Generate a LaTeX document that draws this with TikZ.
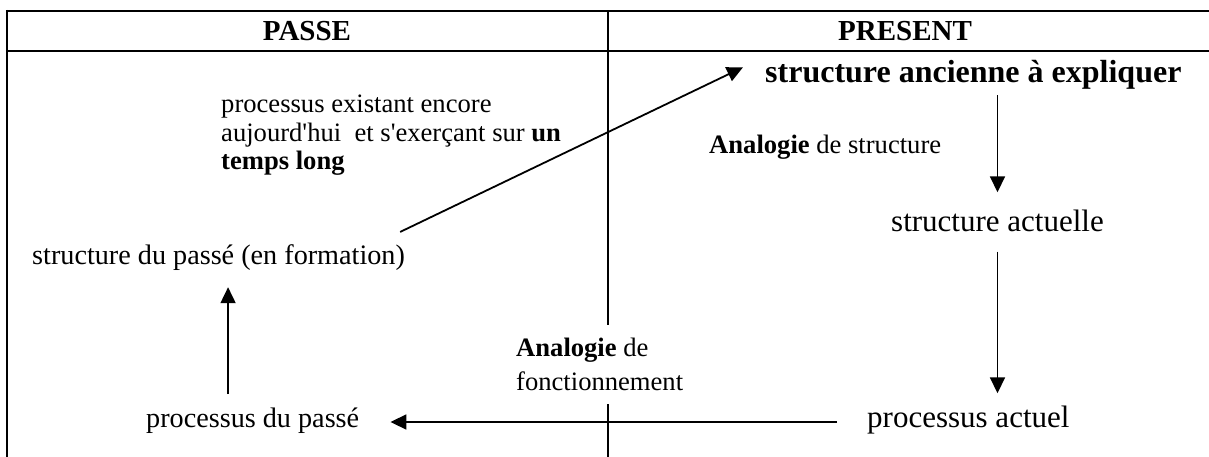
\documentclass[tikz,border=0pt]{standalone}
\usepackage{fontspec}
\setmainfont{Liberation Serif}
\usetikzlibrary{arrows.meta}

\begin{document}
\begin{tikzpicture}[
  x=1pt, y=-1pt,
  bigtext/.style={font=\fontsize{31}{36}\selectfont, inner sep=0pt, anchor=base west},
  pasttext/.style={font=\fontsize{28.2}{33}\selectfont, inner sep=0pt, anchor=base west},
  smalltext/.style={font=\fontsize{26.6}{28.5}\selectfont, inner sep=0pt, anchor=north west, align=left},
  header/.style={font=\fontsize{29}{33}\selectfont\bfseries, inner sep=0pt},
  tableline/.style={line width=2.2pt},
  arrow/.style={draw, line width=1.8pt, -{Triangle[length=16pt,width=15pt]}},
]
  \useasboundingbox (0,0) rectangle (1209,457);

  % table frame
  \draw[tableline] (5.9,11) -- (1209,11);
  \draw[tableline] (5.9,51) -- (1209,51);
  \draw[tableline] (7,9.9) -- (7,457);
  \draw[tableline] (608,11) -- (608,325);
  \draw[tableline] (608,404) -- (608,457);

  % headers
  \node[header] (passe) at (307,31) {PASSE};
  \node[header] (present) at (905,31) {PRESENT};

  % past column
  \node[pasttext] (spasse) at (32,264) {structure du passé (en formation)};
  \node[pasttext] (ppasse) at (146,427) {processus du passé};
  \node[smalltext] (tempslong) at (221,95) {processus existant encore\\aujourd\textquotesingle hui~ et s\textquotesingle exerçant sur \textbf{un}\\\textbf{temps long}};

  % present column
  \node[bigtext,font=\fontsize{32}{36}\selectfont\bfseries] (ancienne) at (765,83) {structure ancienne à expliquer};
  \node[bigtext] (sactuelle) at (891,231) {structure actuelle};
  \node[bigtext] (pactuel) at (867,427) {processus actuel};
  \node[smalltext,anchor=base west] (anastruct) at (709,154) {\textbf{Analogie} de structure};
  \node[smalltext,font=\fontsize{26.6}{34}\selectfont] (anafonc) at (516,338) {\textbf{Analogie} de\\fonctionnement};

  % arrows
  \draw[arrow] ([xshift=-5pt,yshift=12pt]spasse.north east) -- ([xshift=-22pt,yshift=8pt]ancienne.west);
  \draw[arrow, shorten <=5pt, shorten >=17pt] (ancienne.south -| sactuelle) -- (sactuelle.north);
  \draw[arrow, shorten <=20pt, shorten >=12pt] (sactuelle.south) -- (sactuelle.south |- pactuel.north);
  \draw[arrow, shorten <=30pt, shorten >=31pt] ([yshift=5pt]pactuel.base west) -- ([yshift=5pt]ppasse.base east);
  \draw[arrow, shorten <=13pt, shorten >=17pt] ([xshift=9.5pt]spasse.south |- ppasse.north) -- ([xshift=9.5pt]spasse.south);
\end{tikzpicture}
\end{document}
